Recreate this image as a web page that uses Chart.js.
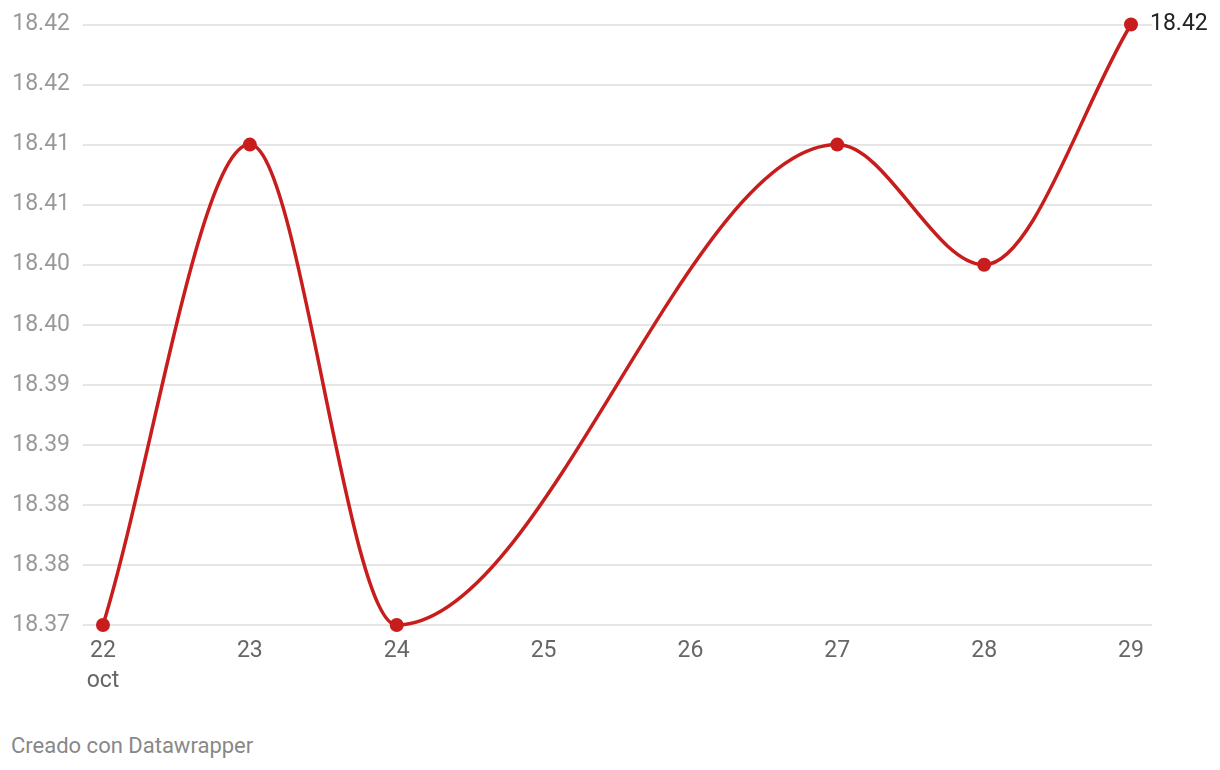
<!DOCTYPE html>
<html><head><meta charset="utf-8">
<script src="https://cdn.jsdelivr.net/npm/chart.js@4/dist/chart.umd.min.js"></script>
<style>
html,body{margin:0;padding:0;background:#fff;}
#wrap{position:relative;width:1220px;height:770px;}
#footer{position:absolute;left:11px;top:733px;font-family:Roboto,sans-serif;font-size:22px;line-height:26px;color:#888;}
</style></head>
<body>
<div id="wrap"><canvas id="c" width="1220" height="720" style="width:1220px;height:720px"></canvas>
<div id="footer">Creado con Datawrapper</div></div>
<script>
const days = [22, 23, 24, 27, 28, 29];
const values = [18.37, 18.41, 18.37, 18.41, 18.40, 18.42];
const xTickValues = [22, 23, 24, 25, 26, 27, 28, 29];
const xTickLabels = [['22', 'oct'], '23', '24', '25', '26', '27', '28', '29'];
const yTickValues = [18.37, 18.375, 18.38, 18.385, 18.39, 18.395, 18.40, 18.405, 18.41, 18.415, 18.42];
const yTickLabels = ['18.37', '18.38', '18.38', '18.39', '18.39', '18.40', '18.40', '18.41', '18.41', '18.42', '18.42'];
const lastLabel = '18.42';

const red = '#c71e1d';
const valueLabel = {
  id: 'valueLabel',
  afterDatasetsDraw(chart) {
    const meta = chart.getDatasetMeta(0);
    const p = meta.data[meta.data.length - 1];
    const ctx = chart.ctx;
    ctx.save();
    ctx.font = '23px Roboto';
    ctx.fillStyle = '#222';
    ctx.textAlign = 'left';
    ctx.textBaseline = 'middle';
    ctx.fillText(lastLabel, p.x + 19, p.y);
    ctx.restore();
  }
};

new Chart(document.getElementById('c'), {
  type: 'line',
  data: {
    datasets: [{
      data: days.map((d, i) => ({x: d, y: values[i]})),
      borderColor: red,
      backgroundColor: red,
      borderWidth: 3.5,
      pointRadius: 7,
      pointBorderWidth: 0,
      pointBackgroundColor: red,
      cubicInterpolationMode: 'monotone',
      clip: false
    }]
  },
  options: {
    responsive: false,
    animation: false,
    layout: {padding: {top: 24, right: 68, bottom: 24, left: 0}},
    plugins: {legend: {display: false}, tooltip: {enabled: false}},
    scales: {
      x: {
        type: 'linear',
        min: 21.864,
        max: 29.143,
        afterBuildTicks(s) { s.ticks = xTickValues.map(v => ({value: v})); },
        afterFit(s) { s.height = 71; },
        ticks: {
          callback(v) { const i = xTickValues.indexOf(v); return i >= 0 ? xTickLabels[i] : ''; },
          font: {family: 'Roboto', size: 23, lineHeight: '30px'},
          color: '#666',
          padding: 11,
          maxRotation: 0,
          autoSkip: false
        },
        grid: {display: false, drawTicks: false},
        border: {display: false}
      },
      y: {
        min: 18.37,
        max: 18.42,
        afterBuildTicks(s) { s.ticks = yTickValues.map(v => ({value: v})); },
        afterFit(s) { s.width = 83; },
        ticks: {
          callback(v, i) { return yTickLabels[i]; },
          font: {family: 'Roboto', size: 23, lineHeight: 1},
          color: '#999',
          padding: 13
        },
        grid: {color: '#e6e6e6', lineWidth: 2, drawTicks: false},
        border: {display: false}
      }
    }
  },
  plugins: [valueLabel]
});
</script>
</body></html>
